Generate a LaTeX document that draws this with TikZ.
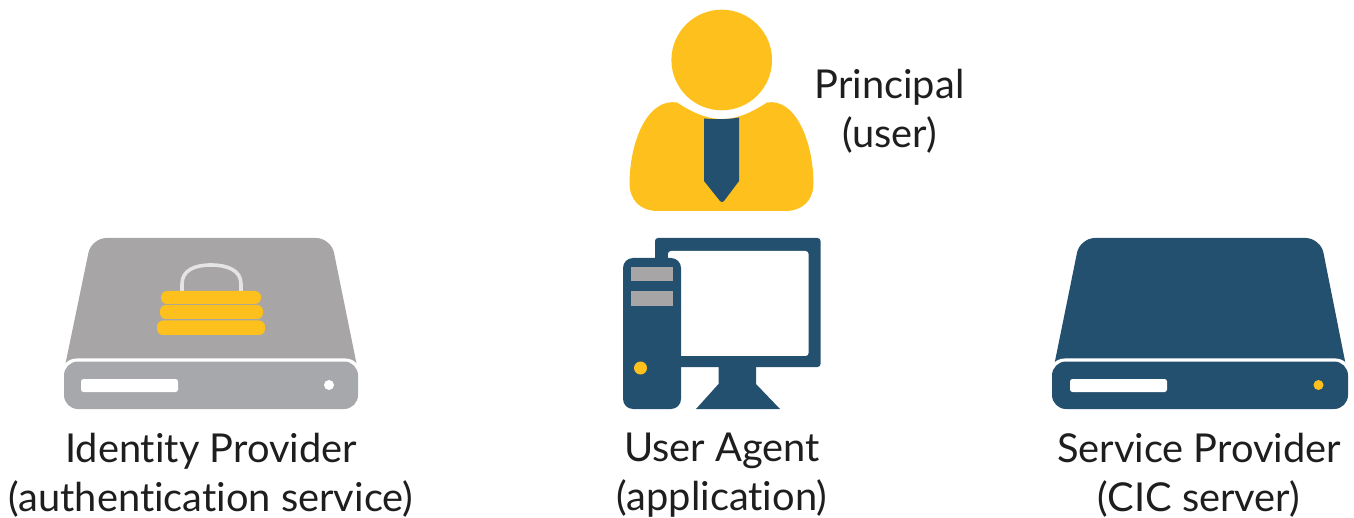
\documentclass[tikz,border=0pt]{standalone}
\usepackage{fontspec}
\setmainfont[Ligatures=NoCommon]{Lato}
\definecolor{navy}{HTML}{24506F}
\definecolor{gold}{HTML}{FDC01D}
\definecolor{greytop}{HTML}{A7A5A6}
\definecolor{greytray}{HTML}{A6A8AB}
\definecolor{ink}{HTML}{1E1E1E}
\tikzset{
  label text/.style={align=center,inner sep=0pt,text=ink,font=\fontsize{39.8}{49}\selectfont},
  tray/.style={rounded corners=14pt},
  tray gap/.style={fill=white,rounded corners=15pt},
  slot/.style={fill=white,rounded corners=2.5pt},
  bar/.style={fill=gold,rounded corners=6pt},
  pane/.style={fill=greytop}
}
\begin{document}
\begin{tikzpicture}[x=1pt,y=-1pt]
\useasboundingbox (0,0) rectangle (1354,518);
% Person
\fill[gold] (721.7,60) circle (50.3);
\fill[gold] (677,102.5) .. controls (690,111) and (705,119) .. (722,119) .. controls (739,119) and (754,111) .. (767,102.5)
  .. controls (795,98) and (813,140) .. (813.5,183) .. controls (813.5,200) and (803,211) .. (785,211)
  -- (658,211) .. controls (640,211) and (629.5,200) .. (629.5,183) .. controls (630,140) and (648,98) .. (677,102.5) -- cycle;
\fill[navy] (704,118.5) .. controls (716,119.5) and (728,119.5) .. (739,117.5) -- (739,181) -- (724,201) .. controls (722.5,202.5) and (721.5,202.5) .. (720,201) -- (704,181) -- cycle;
% Computer
\fill[navy,rounded corners=3pt] (655,238) rectangle (820.5,367);
\fill[white,rounded corners=3pt] (668,251) rectangle (808.5,356);
\fill[navy] (718.5,365) -- (756,365) -- (756,384) -- (780,409) -- (696,409) -- (718.5,384) -- cycle;
\fill[navy,rounded corners=10pt] (623,258) rectangle (681,409);
\fill[pane] (631,267) rectangle (673,281);
\fill[pane] (631,291.5) rectangle (673,306);
\fill[gold] (640.5,368) circle (6.5);
% Identity provider server
\fill[greytop] (65,366) [rounded corners=15pt] -- (91.5,238) -- (331,238) [sharp corners] -- (357,366) -- cycle;
\fill[tray gap] (61.5,358.5) rectangle (360.5,412);
\fill[greytray,tray] (64,361.5) rectangle (358,409);
\fill[slot] (81,379) rectangle (178,392);
\fill[white] (329,385) circle (5);
\draw[draw=white!70!greytop,line width=3.6pt] (182,291) -- (182,284) .. controls (182,270) and (195,265) .. (211,265) .. controls (227,265) and (241,270) .. (241,284) -- (241,291);
\fill[bar] (161,291) rectangle (261,304);
\fill[bar] (160,305) rectangle (263,319);
\fill[bar] (157,320.5) rectangle (265,335);
% Service provider server
\fill[navy] (1054,366) [rounded corners=15pt] -- (1080,238) -- (1320.5,238) [sharp corners] -- (1346,366) -- cycle;
\fill[tray gap] (1049.5,358.5) rectangle (1350.5,412);
\fill[navy,tray] (1052,361.5) rectangle (1348,409);
\fill[slot] (1070,379) rectangle (1167,392);
\fill[gold] (1318.5,385) circle (5);
% Labels
\node[label text] (principal) at (889.5,111) {Principal\\(user)};
\node[label text] (idp) at (211,475) {Identity Provider\\(authentication service)};
\node[label text] (agent) at (722,475) {User Agent\\(application)};
\node[label text] (sp) at (1199,475) {Service Provider\\(CIC server)};
\end{tikzpicture}
\end{document}
